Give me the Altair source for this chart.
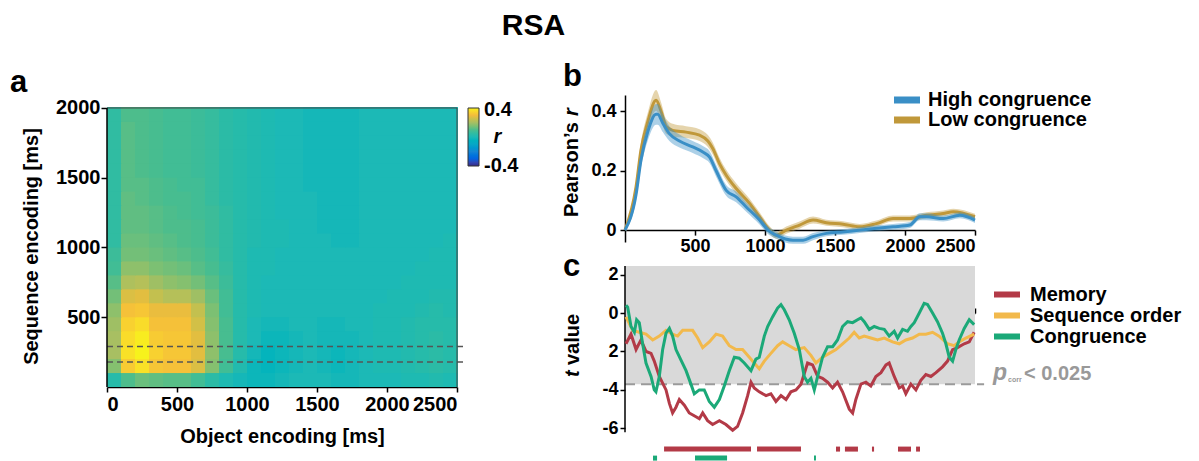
import altair as alt
import pandas as pd

FONT = "Liberation Sans"

# ---------------- Panel a : RSA matrix (r, 100 ms bins) ----------------
obj_edges = list(range(0, 2600, 100))   # object encoding bin edges [ms]
seq_edges = list(range(0, 2100, 100))   # sequence encoding bin edges [ms]

heat_rows = [  # one row per sequence bin (bottom -> top), 25 object bins each
    [0.03,0.10,0.13,0.12,0.11,0.11,0.08,0.04,0.01,-0.01,-0.02,-0.02,-0.01,0.00,0.00,0.00,-0.01,-0.01,0.00,0.00,0.00,0.01,0.01,0.02,0.01],
    [0.16,0.33,0.37,0.32,0.31,0.31,0.27,0.16,0.08,0.02,-0.02,-0.03,-0.02,-0.01,0.00,-0.01,-0.02,-0.01,0.00,0.01,0.01,0.02,0.03,0.04,0.03],
    [0.20,0.37,0.40,0.34,0.32,0.32,0.28,0.17,0.09,0.03,-0.01,-0.03,-0.02,-0.01,0.00,-0.01,-0.02,-0.01,0.00,0.01,0.01,0.02,0.03,0.04,0.03],
    [0.20,0.36,0.39,0.33,0.32,0.32,0.28,0.17,0.09,0.03,0.00,-0.02,-0.02,-0.01,0.00,-0.01,-0.01,-0.01,0.00,0.01,0.01,0.02,0.03,0.04,0.03],
    [0.19,0.34,0.36,0.31,0.31,0.31,0.26,0.16,0.09,0.03,0.00,-0.01,-0.01,0.00,0.00,-0.01,-0.01,0.00,0.00,0.01,0.01,0.02,0.03,0.03,0.03],
    [0.17,0.31,0.32,0.29,0.29,0.29,0.24,0.15,0.08,0.03,0.01,0.00,0.00,0.00,0.00,0.00,0.00,0.00,0.00,0.01,0.01,0.01,0.02,0.03,0.02],
    [0.14,0.27,0.28,0.24,0.22,0.22,0.19,0.13,0.08,0.03,0.01,0.00,0.00,0.00,0.00,0.00,0.00,0.00,0.00,0.00,0.01,0.01,0.01,0.02,0.02],
    [0.11,0.21,0.22,0.19,0.17,0.16,0.14,0.11,0.07,0.03,0.01,0.00,0.00,0.00,0.00,0.00,0.00,0.00,0.00,0.00,0.00,0.01,0.01,0.01,0.01],
    [0.08,0.17,0.17,0.15,0.14,0.13,0.11,0.09,0.06,0.03,0.01,0.01,0.00,0.00,0.00,0.00,0.00,0.00,0.00,0.00,0.00,0.00,0.01,0.01,0.01],
    [0.07,0.14,0.14,0.13,0.12,0.11,0.10,0.08,0.05,0.03,0.01,0.01,0.00,0.00,0.00,0.00,0.00,0.00,0.00,0.00,0.00,0.00,0.00,0.01,0.01],
    [0.05,0.13,0.13,0.12,0.11,0.10,0.09,0.07,0.05,0.03,0.02,0.01,0.01,0.00,0.00,0.00,-0.01,-0.01,0.00,0.00,0.00,0.00,0.00,0.00,0.01],
    [0.05,0.12,0.12,0.11,0.10,0.10,0.09,0.07,0.05,0.03,0.02,0.01,0.01,0.00,0.00,-0.01,-0.01,-0.01,0.00,0.00,0.00,0.00,0.00,0.00,0.00],
    [0.05,0.12,0.12,0.11,0.10,0.09,0.08,0.07,0.05,0.03,0.02,0.01,0.00,0.00,0.00,-0.01,-0.01,-0.01,0.00,0.00,0.00,0.00,0.00,0.00,0.00],
    [0.05,0.12,0.11,0.10,0.09,0.09,0.08,0.06,0.04,0.03,0.02,0.01,0.00,0.00,0.00,-0.01,-0.01,-0.01,0.00,0.00,0.00,0.00,0.00,0.00,0.00],
    [0.05,0.11,0.11,0.10,0.09,0.08,0.08,0.06,0.04,0.03,0.02,0.01,0.00,0.00,-0.01,-0.01,-0.01,-0.01,0.00,0.00,0.00,0.00,0.00,0.00,0.00],
    [0.05,0.11,0.10,0.09,0.08,0.08,0.07,0.06,0.04,0.03,0.02,0.01,0.00,0.00,-0.01,-0.01,-0.01,-0.01,0.00,0.00,0.00,0.00,0.00,0.00,0.00],
    [0.05,0.11,0.10,0.09,0.08,0.08,0.07,0.06,0.04,0.03,0.02,0.01,0.00,0.00,-0.01,-0.01,-0.01,-0.01,0.00,0.00,0.00,0.00,0.00,0.00,0.00],
    [0.05,0.11,0.10,0.09,0.08,0.08,0.07,0.06,0.04,0.03,0.02,0.01,0.00,0.00,-0.01,-0.01,-0.01,-0.01,0.00,0.00,0.00,0.00,0.00,0.00,0.00],
    [0.05,0.11,0.10,0.09,0.08,0.08,0.07,0.06,0.04,0.03,0.02,0.01,0.00,0.00,-0.01,-0.01,-0.01,-0.01,0.00,0.00,0.00,0.00,0.00,0.00,0.00],
    [0.05,0.10,0.10,0.09,0.08,0.08,0.07,0.06,0.04,0.03,0.02,0.01,0.00,0.00,-0.01,-0.01,-0.01,-0.01,0.00,0.00,0.00,0.00,0.00,0.00,0.00],
]
dash_seq = [180, 290]   # dashed reference rows [ms]

color_stops = [-0.4, -0.3, -0.2, -0.1, 0.0, 0.1, 0.2, 0.3, 0.4]
color_hex = ["#352a87", "#0363e1", "#1485d4", "#06a7c6", "#1cb9b6",
             "#4dbd8c", "#a8bf62", "#f3bc3c", "#f7f21c"]
colorbar_ticks = [-0.399, 0.37]   # label anchors near the two ends of the colour bar

# ---------------- Panel b : Pearson's r time courses ----------------
t_low = [0,79,114,162,222,258,293,341,436,532,592,627,675,723,794,890,961,1033,1080,1152,
         1247,1343,1438,1557,1677,1796,1915,2034,2154,2273,2345,2500]
r_low = [0,0.146,0.27,0.364,0.437,0.40,0.35,0.336,0.33,0.32,0.30,0.275,0.224,0.185,0.14,0.09,
         0.045,0.0,-0.017,0.0,0.017,0.034,0.025,0.02,0.011,0.022,0.039,0.039,0.05,0.056,0.062,0.045]
sem_low = [0.004,0.02,0.025,0.03,0.035,0.03,0.025,0.022,0.02,0.02,0.02,0.02,0.02,0.018,0.018,0.016,
           0.015,0.013,0.012,0.012,0.012,0.012,0.01,0.01,0.01,0.01,0.01,0.01,0.01,0.01,0.01,0.01]
t_high = [0,79,114,162,222,234,270,317,389,484,556,604,651,723,794,866,961,1021,1080,1200,
          1272,1343,1438,1557,1677,1796,1915,2034,2106,2154,2273,2392,2500]
r_high = [0,0.12,0.235,0.33,0.39,0.39,0.36,0.325,0.30,0.28,0.263,0.246,0.2,0.134,0.112,0.078,
          0.034,0.0,-0.017,-0.034,-0.034,-0.022,-0.011,-0.006,0.0,0.006,0.011,0.017,0.045,0.045,
          0.039,0.05,0.034]
sem_high = [0.004,0.02,0.025,0.03,0.035,0.035,0.03,0.025,0.022,0.02,0.02,0.02,0.02,0.018,0.018,
            0.016,0.015,0.013,0.012,0.012,0.012,0.012,0.01,0.01,0.01,0.01,0.01,0.01,0.012,0.012,
            0.01,0.01,0.01]
cond_names = ["High congruence", "Low congruence"]
cond_colors = ["#3a8fc6", "#c0983a"]

# ---------------- Panel c : t values ----------------
mem_t = [7,43,79,114,150,186,209,245,293,317,340,364,388,424,459,507,531,555,590,626,674,721,769,
         804,840,876,900,923,959,1007,1042,1078,1114,1150,1185,1221,1257,1304,1340,1376,1411,1447,
         1483,1518,1554,1602,1626,1649,1685,1721,1756,1792,1828,1864,1887,1923,1959,1983,2006,2042,
         2078,2113,2149,2185,2221,2268,2304,2340,2375,2423,2459,2494]
mem_v = [-1.6,-1.1,-1.9,-1.4,-2.0,-2.1,-2.5,-3.3,-4.0,-4.7,-5.2,-4.9,-4.5,-4.8,-5.2,-5.4,-5.5,-5.2,
         -5.6,-5.8,-5.6,-5.8,-6.1,-5.9,-5.2,-4.3,-3.6,-3.9,-4.1,-4.3,-4.2,-4.6,-4.3,-4.5,-4.1,-4.0,
         -3.7,-2.6,-2.7,-3.3,-3.4,-3.6,-3.9,-3.6,-4.1,-5.0,-5.2,-4.5,-3.7,-3.6,-3.8,-3.3,-3.1,-2.7,
         -2.6,-3.3,-3.9,-3.8,-4.2,-3.7,-4.0,-3.5,-3.2,-3.3,-3.1,-2.8,-2.5,-1.9,-1.8,-1.6,-1.5,-1.0]
seq_t = [7,55,102,150,198,245,293,340,376,412,459,483,519,555,602,650,697,745,793,840,888,923,959,
         995,1042,1090,1126,1173,1221,1280,1328,1364,1411,1459,1507,1554,1602,1637,1673,1709,1756,
         1804,1852,1911,1959,2006,2054,2102,2149,2197,2244,2304,2351,2387,2435,2494]
seq_v = [-0.2,-0.9,-1.0,-1.1,-1.4,-1.2,-0.9,-1.1,-1.2,-0.9,-0.9,-0.9,-1.3,-1.8,-1.5,-1.1,-1.2,-1.7,
         -1.9,-1.9,-2.3,-2.6,-2.9,-2.5,-2.1,-1.7,-1.5,-1.7,-1.9,-1.8,-2.2,-2.6,-2.3,-2.1,-1.9,-1.6,
         -1.3,-1.0,-1.3,-1.2,-1.3,-1.4,-1.3,-1.5,-1.6,-1.4,-1.3,-1.1,-1.1,-1.0,-1.2,-1.6,-1.7,-1.5,
         -1.3,-1.1]
con_t = [7,19,43,67,83,102,126,150,186,209,221,245,269,293,317,340,364,400,436,471,495,531,566,602,
         638,674,709,745,781,816,852,900,935,959,995,1019,1054,1090,1114,1138,1173,1209,1245,1280,
         1304,1328,1352,1376,1411,1447,1483,1518,1554,1590,1626,1661,1685,1709,1745,1780,1816,1852,
         1887,1923,1947,1983,2018,2042,2066,2102,2137,2161,2197,2232,2268,2292,2316,2340,2363,2387,
         2423,2459,2494]
con_v = [0.4,0.3,-0.7,-1.0,-0.35,-0.5,-1.6,-2.6,-3.3,-4.0,-4.1,-3.3,-1.9,-1.05,-0.8,-1.2,-1.9,-2.45,
         -3.0,-3.7,-4.2,-4.0,-4.0,-4.6,-4.9,-4.5,-3.8,-3.0,-2.3,-2.35,-2.6,-3.0,-2.4,-2.3,-1.2,-0.7,
         -0.2,0.26,0.44,0.17,-0.35,-1.05,-1.9,-3.3,-3.6,-3.4,-4.0,-3.3,-2.3,-1.75,-1.75,-1.4,-0.7,
         -0.45,-0.5,-0.35,-0.25,-0.45,-0.85,-0.7,-0.8,-0.85,-1.2,-0.95,-1.3,-0.85,-0.95,-0.7,-0.5,
         0.0,0.5,0.44,0.0,-0.45,-1.05,-1.6,-2.3,-2.5,-1.9,-1.4,-0.8,-0.35,-0.6]
series_names = ["Memory", "Sequence order", "Congruence"]
series_colors = ["#b33a47", "#f2b94c", "#1ba978"]
mem_sig = [(279, 900), (943, 1257), (1507, 1536), (1571, 1664), (1764, 1779), (1950, 2043), (2079, 2107)]
con_sig = [(200, 229), (500, 729), (1350, 1364)]
t_threshold = -3.7

# ---------------- tables ----------------
heat_df = pd.DataFrame([
    {"x0": obj_edges[j], "x1": obj_edges[j + 1], "y0": seq_edges[i], "y1": seq_edges[i + 1], "r": v}
    for i, row in enumerate(heat_rows) for j, v in enumerate(row)
])
one = pd.DataFrame({"k": [0]})

LEG_PATH = "M-3.2,0H3.2"   # long flat legend stroke


def txt(s, x, y, size, style="normal", color="black", align="left",
        baseline="alphabetic", angle=0, weight="bold"):
    return alt.Chart(one).mark_text(
        text=s, font=FONT, fontSize=size, fontWeight=weight, fontStyle=style,
        color=color, align=align, baseline=baseline, angle=angle
    ).encode(x=alt.value(x), y=alt.value(y))


# ======== Panel a ========
xsA = alt.Scale(domain=[0, 2500], nice=False, zero=False)
ysA = alt.Scale(domain=[0, 2093], nice=False, zero=False)
axA_x = alt.Axis(values=[0, 500, 1000, 1500, 2000, 2500], format="d", title="Object encoding [ms]",
                 labelFontSize=20, titleFontSize=20, tickSize=5, labelPadding=2, titlePadding=12,
                 domainWidth=1.5, tickWidth=1.5)
axA_y = alt.Axis(values=[500, 1000, 1500, 2000], format="d", title="Sequence encoding [ms]",
                 domain=False, labelFontSize=20, titleFontSize=20, tickSize=6, labelPadding=1,
                 titlePadding=14, titleY=151, tickWidth=1.5)
cscale = alt.Scale(domain=color_stops, range=color_hex)


def XA(f):
    return alt.X(f, type="quantitative", scale=xsA, axis=axA_x)


def YA(f):
    return alt.Y(f, type="quantitative", scale=ysA, axis=axA_y)


heat = alt.Chart(heat_df).mark_rect(x2Offset=1, y2Offset=-1).encode(
    x=XA("x0"), x2="x1", y=YA("y0"), y2="y1",
    color=alt.Color("r:Q", scale=cscale, legend=alt.Legend(
        type="gradient", title=None, orient="none", legendX=361, legendY=13,
        direction="vertical", gradientLength=58, gradientThickness=11, values=colorbar_ticks,
        labelExpr="datum.value > 0 ? '0.4' : '-0.4'", labelFontSize=20, labelOffset=5,
        gradientStrokeColor="#333", gradientStrokeWidth=1)),
)
dashA = alt.Chart(pd.DataFrame({"x0": [0, 0], "x1": [2570, 2570], "y0": dash_seq})).mark_rule(
    color="#555555", strokeWidth=1.5, strokeDash=[6, 4]).encode(x=XA("x0"), x2="x1", y=YA("y0"))
frameA_k = alt.Chart(pd.DataFrame({"x0": [0], "x1": [0], "y0": [0], "y1": [2000]})).mark_rule(
    color="black", strokeWidth=1.5).encode(x=XA("x0"), x2="x1", y=YA("y0"), y2="y1")
frameA_g = alt.Chart(pd.DataFrame({"x0": [0, 2500], "x1": [2500, 2500], "y0": [2000, 0],
                                   "y1": [2000, 2000]})).mark_rule(
    color="#444444", strokeWidth=1).encode(x=XA("x0"), x2="x1", y=YA("y0"), y2="y1")

chartA = alt.layer(
    heat, dashA, frameA_g, frameA_k,
    txt("a", -97, -3, 31),
    txt("RSA", 426.5, -60, 30, align="center"),
    txt("r", 390.5, 48, 20, style="italic", align="center"),
).properties(width=350, height=292)

# ======== Panel b ========
xsB = alt.Scale(domain=[0, 2500], nice=False, zero=False)
ysB = alt.Scale(domain=[-0.04, 0.455], nice=False, zero=False)
axB_x = alt.Axis(orient="bottom", offset=-11.9, values=[500, 1000, 1500, 2000, 2500], format="d",
                 title=None, labelFontSize=18, tickSize=5, labelPadding=2, domainWidth=1.5,
                 tickWidth=1.5)
axB_y = alt.Axis(values=[0, 0.2, 0.4], labelExpr="toString(datum.value)", title=None,
                 labelFontSize=18, tickSize=5, labelPadding=4, domainWidth=1.5, tickWidth=1.5)
cB = alt.Scale(domain=cond_names, range=cond_colors)
legB = alt.Legend(title=None, orient="none", legendX=269, legendY=-4, symbolType=LEG_PATH,
                  symbolStrokeWidth=7, symbolSize=100, labelFontSize=20, labelOffset=14,
                  rowPadding=0, clipHeight=18, symbolOpacity=1, labelLimit=400)

dfB_low = pd.DataFrame({"t": t_low, "r": r_low, "sem": sem_low, "cond": cond_names[1]})
dfB_high = pd.DataFrame({"t": t_high, "r": r_high, "sem": sem_high, "cond": cond_names[0]})


def XB():
    return alt.X("t:Q", scale=xsB, axis=axB_x)


def band(df, col):
    return alt.Chart(df).transform_calculate(
        lo="datum.r - datum.sem", hi="datum.r + datum.sem"
    ).mark_area(color=col, opacity=0.42, interpolate="monotone").encode(
        x=XB(), y=alt.Y("lo:Q", scale=ysB, axis=axB_y), y2="hi:Q")


def bline(df):
    return alt.Chart(df).mark_line(strokeWidth=3, interpolate="monotone").encode(
        x=XB(), y=alt.Y("r:Q", scale=ysB, axis=axB_y),
        color=alt.Color("cond:N", scale=cB, legend=legB))


chartB = alt.layer(
    band(dfB_low, cond_colors[1]), bline(dfB_low),
    band(dfB_high, cond_colors[0]), bline(dfB_high),
    txt("b", -62, -9, 31),
    txt("Pearson\u2019s", -53, 122, 20, angle=270, baseline="middle"),
    txt("r", -53, 21, 20, style="italic", angle=270, baseline="middle"),
).properties(width=350, height=147)

# ======== Panel c ========
xsC = alt.Scale(domain=[0, 2500], nice=False, zero=False)
ysC = alt.Scale(domain=[-7.7, 2.5], nice=False, zero=False)
axC_x = alt.Axis(orient="top", offset=-48, values=[500, 1000, 1500, 2000, 2500], labels=False,
                 title=None, tickSize=5, domainWidth=1.5, tickWidth=1.5)
axC_y = alt.Axis(values=[2, 0, -2, -4, -6],
                 labelExpr="datum.value == -2 ? '2' : toString(datum.value)",
                 title=None, domain=False, labelFontSize=18, tickSize=5, labelPadding=2,
                 tickWidth=1.5)
cC = alt.Scale(domain=series_names, range=series_colors)
legC = alt.Legend(title=None, orient="none", legendX=369, legendY=22, symbolType=LEG_PATH,
                  symbolStrokeWidth=6, symbolSize=100, labelFontSize=20, labelOffset=16,
                  rowPadding=0, clipHeight=15, symbolOpacity=1, labelLimit=400)


def XC(f):
    return alt.X(f, type="quantitative", scale=xsC, axis=axC_x)


def YC(f):
    return alt.Y(f, type="quantitative", scale=ysC, axis=axC_y)


grayC = alt.Chart(pd.DataFrame({"x0": [0], "x1": [2500], "y0": [t_threshold], "y1": [2.45]})).mark_rect(
    color="#d9d9d9").encode(x=XC("x0"), x2="x1", y=YC("y0"), y2="y1")
threshC = alt.Chart(pd.DataFrame({"x0": [0], "x1": [2565], "y0": [t_threshold]})).mark_rule(
    color="#9a9a9a", strokeWidth=2, strokeDash=[10, 6]).encode(x=XC("x0"), x2="x1", y=YC("y0"))
yaxC = alt.Chart(pd.DataFrame({"x0": [0], "x1": [0], "y0": [-6.2], "y1": [2.45]})).mark_rule(
    color="black", strokeWidth=1.5).encode(x=XC("x0"), x2="x1", y=YC("y0"), y2="y1")


def cline(ts, vs, name):
    df = pd.DataFrame({"t": ts, "v": vs, "series": name})
    return alt.Chart(df).mark_line(strokeWidth=3).encode(
        x=XC("t"), y=YC("v"), color=alt.Color("series:N", scale=cC, legend=legC))


def sigbars(segs, name, level):
    df = pd.DataFrame({"s": [a for a, b in segs], "e": [b for a, b in segs],
                       "lev": level, "series": name})
    return alt.Chart(df).mark_rule(strokeWidth=5, strokeCap="butt").encode(
        x=XC("s"), x2="e", y=YC("lev"), color=alt.Color("series:N", scale=cC, legend=legC))


chartC = alt.layer(
    grayC, threshC, yaxC,
    cline(mem_t, mem_v, "Memory"), cline(seq_t, seq_v, "Sequence order"),
    cline(con_t, con_v, "Congruence"),
    sigbars(mem_sig, "Memory", [-7.08] * len(mem_sig)),
    sigbars(con_sig, "Congruence", [-7.55] * len(con_sig)),
    txt("c", -62, 11, 31),
    txt("t", -52, 112, 20, style="italic", angle=270, baseline="middle"),
    txt("value", -52, 100, 20, angle=270, baseline="middle"),
    txt("p", 368, 115, 23, style="italic", color="#999999"),
    txt("corr", 383, 117, 7, color="#999999"),
    txt("< 0.025", 399, 115, 20, color="#999999"),
).properties(width=350, height=196)

right = alt.vconcat(chartB, chartC, spacing=23, bounds="flush").resolve_scale(color="independent")
chart = alt.hconcat(chartA, right, spacing=168, bounds="flush").resolve_scale(
    color="independent"
).properties(
    padding={"left": 10, "top": 11, "right": 4, "bottom": 0}
).configure(font=FONT).configure_view(strokeWidth=0).configure_axis(
    grid=False, labelFontWeight="bold", labelColor="black", domainColor="black",
    tickColor="black", titleFontWeight="bold", titleColor="black", labelFont=FONT, titleFont=FONT
).configure_legend(labelFont=FONT, labelFontWeight="bold", labelColor="black")

chart.save("out.html", embed_options={"renderer": "svg", "actions": False})
